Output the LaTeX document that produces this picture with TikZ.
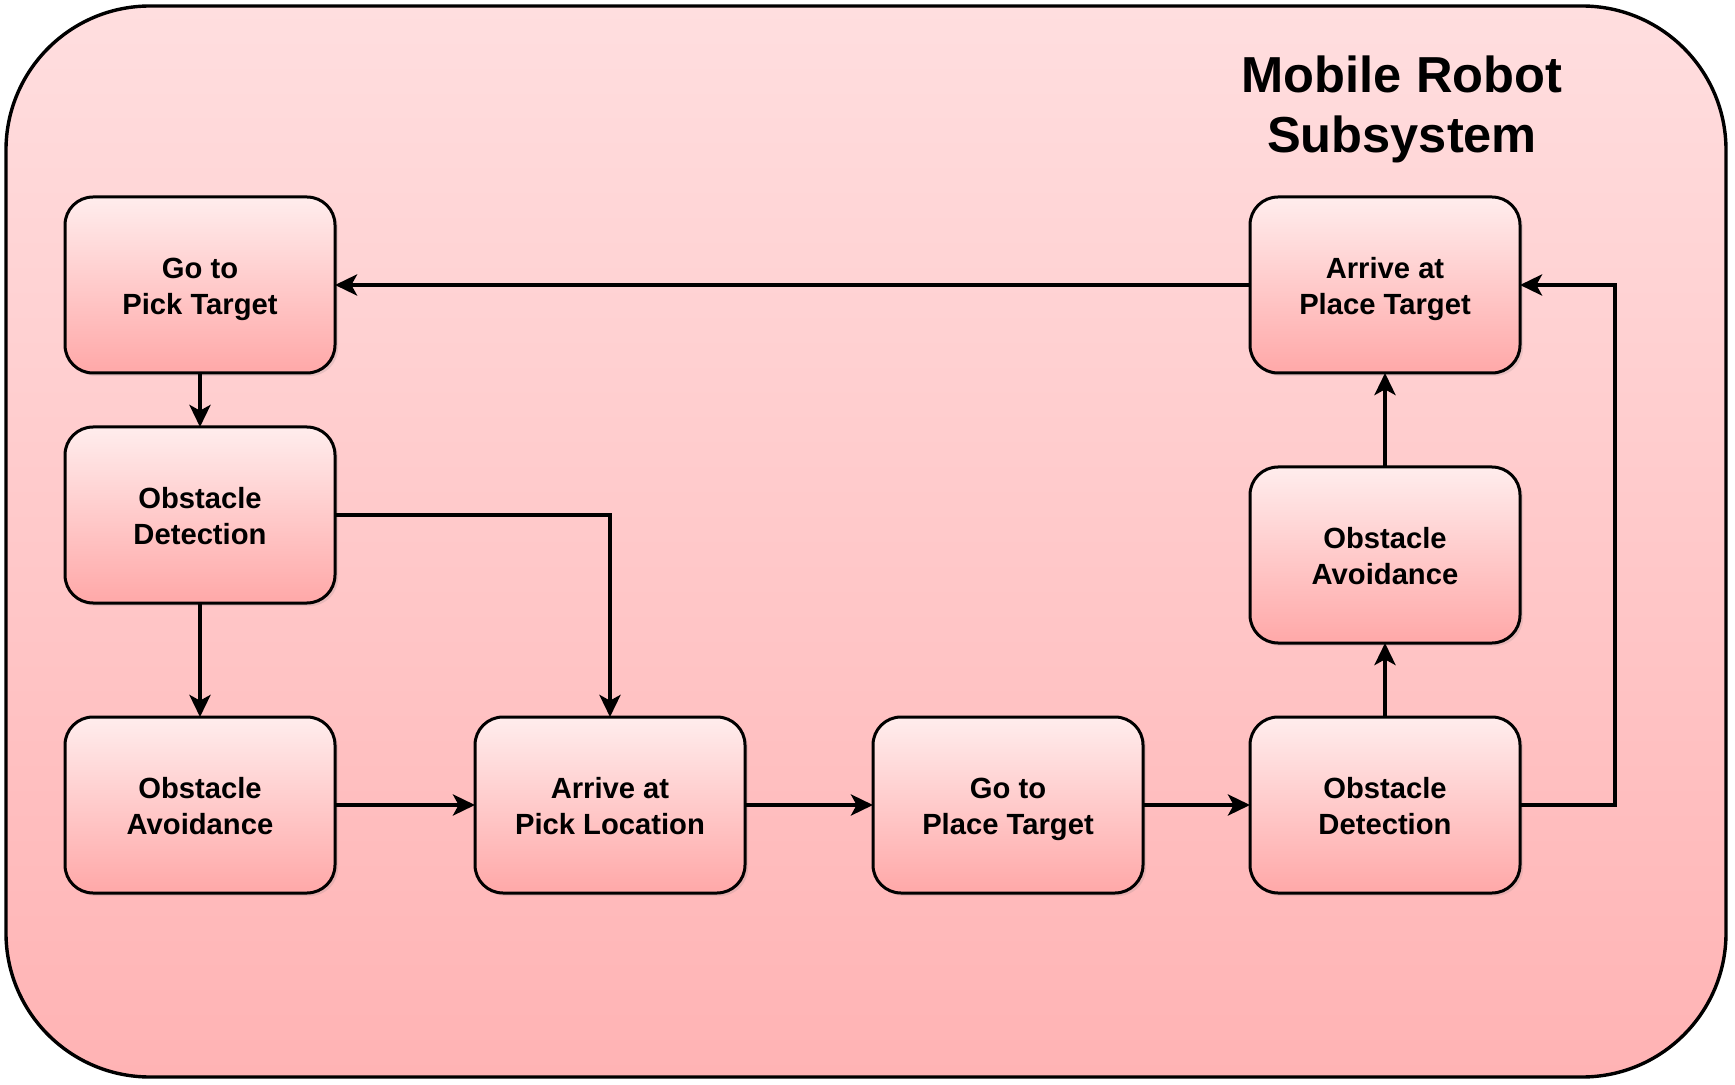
\documentclass[tikz,border=0pt]{standalone}
\usepackage{fontspec}
\setmainfont{Liberation Sans}
\usepackage{tikz}
\usetikzlibrary{arrows.meta}
\usetikzlibrary{positioning}
\usetikzlibrary{shadows}

\definecolor{frametop}{HTML}{FFDEDF}
\definecolor{framebot}{HTML}{FFB3B4}
\definecolor{boxtop}{HTML}{FFEDED}
\definecolor{boxbot}{HTML}{FFA8A8}

%% two-line box label with fixed line heights
\newcommand{\stagetext}[2]{\rule{0pt}{15pt}#1\\#2\rule[-3.5pt]{0pt}{0pt}}

\begin{document}
\begin{tikzpicture}[
  x=0.5pt, y=-0.5pt,
  stagebox/.style={draw, rounded corners=14pt, line width=1.5pt, outer sep=0pt,
    minimum width=135pt, minimum height=88pt, align=center,
    top color=boxtop, bottom color=boxbot,
    drop shadow={shadow xshift=1.5pt, shadow yshift=-1.5pt, opacity=0.18},
    font=\fontsize{14.6}{18}\selectfont\bfseries},
  flow/.style={->, line width=2.1pt},
]
\tikzset{>={Stealth[length=11pt, width=10.5pt, inset=2.8pt]}}
\useasboundingbox (0,0) rectangle (1735,1085);

%% Frame and title
\draw[line width=1.7pt, rounded corners=72pt, top color=frametop, bottom color=framebot]
  (6,6) rectangle (1726,1077);
\node (title) [align=center, font=\fontsize{25.3}{30}\selectfont\bfseries] at (1402,109)
  {Mobile Robot\\Subsystem};

%% Pick side
\node[stagebox] (gopick) at (200,285)            {\stagetext{Go to}{Pick Target}};
\node[stagebox] (detL)    [below=27pt of gopick]  {\stagetext{Obstacle}{Detection}};
\node[stagebox] (avoidL)  [below=57pt of detL]    {\stagetext{Obstacle}{Avoidance}};
\node[stagebox] (arrpick) [right=70pt of avoidL]  {\stagetext{Arrive at}{Pick Location}};

%% Place side
\node[stagebox] (goplace)  [right=64pt of arrpick]   {\stagetext{Go to}{Place Target}};
\node[stagebox] (detR)     [right=53.5pt of goplace] {\stagetext{Obstacle}{Detection}};
\node[stagebox] (avoidR)   [above=37pt of detR]      {\stagetext{Obstacle}{Avoidance}};
\node[stagebox] (arrplace) [above=47pt of avoidR]    {\stagetext{Arrive at}{Place Target}};

\draw[flow] (gopick)  to (detL);
\draw[flow] (detL)    to (avoidL);
\draw[flow] (detL.east) -| (arrpick.north);
\draw[flow] (avoidL)  to (arrpick);
\draw[flow] (arrpick) to (goplace);
\draw[flow] (goplace) to (detR);
\draw[flow] (detR)    to (avoidR);
\draw[flow] (avoidR)  to (arrplace);
\draw[flow] (detR.east) -- ++(47.5pt,0) |- (arrplace.east);
\draw[flow] (arrplace) to (gopick);

\end{tikzpicture}
\end{document}
